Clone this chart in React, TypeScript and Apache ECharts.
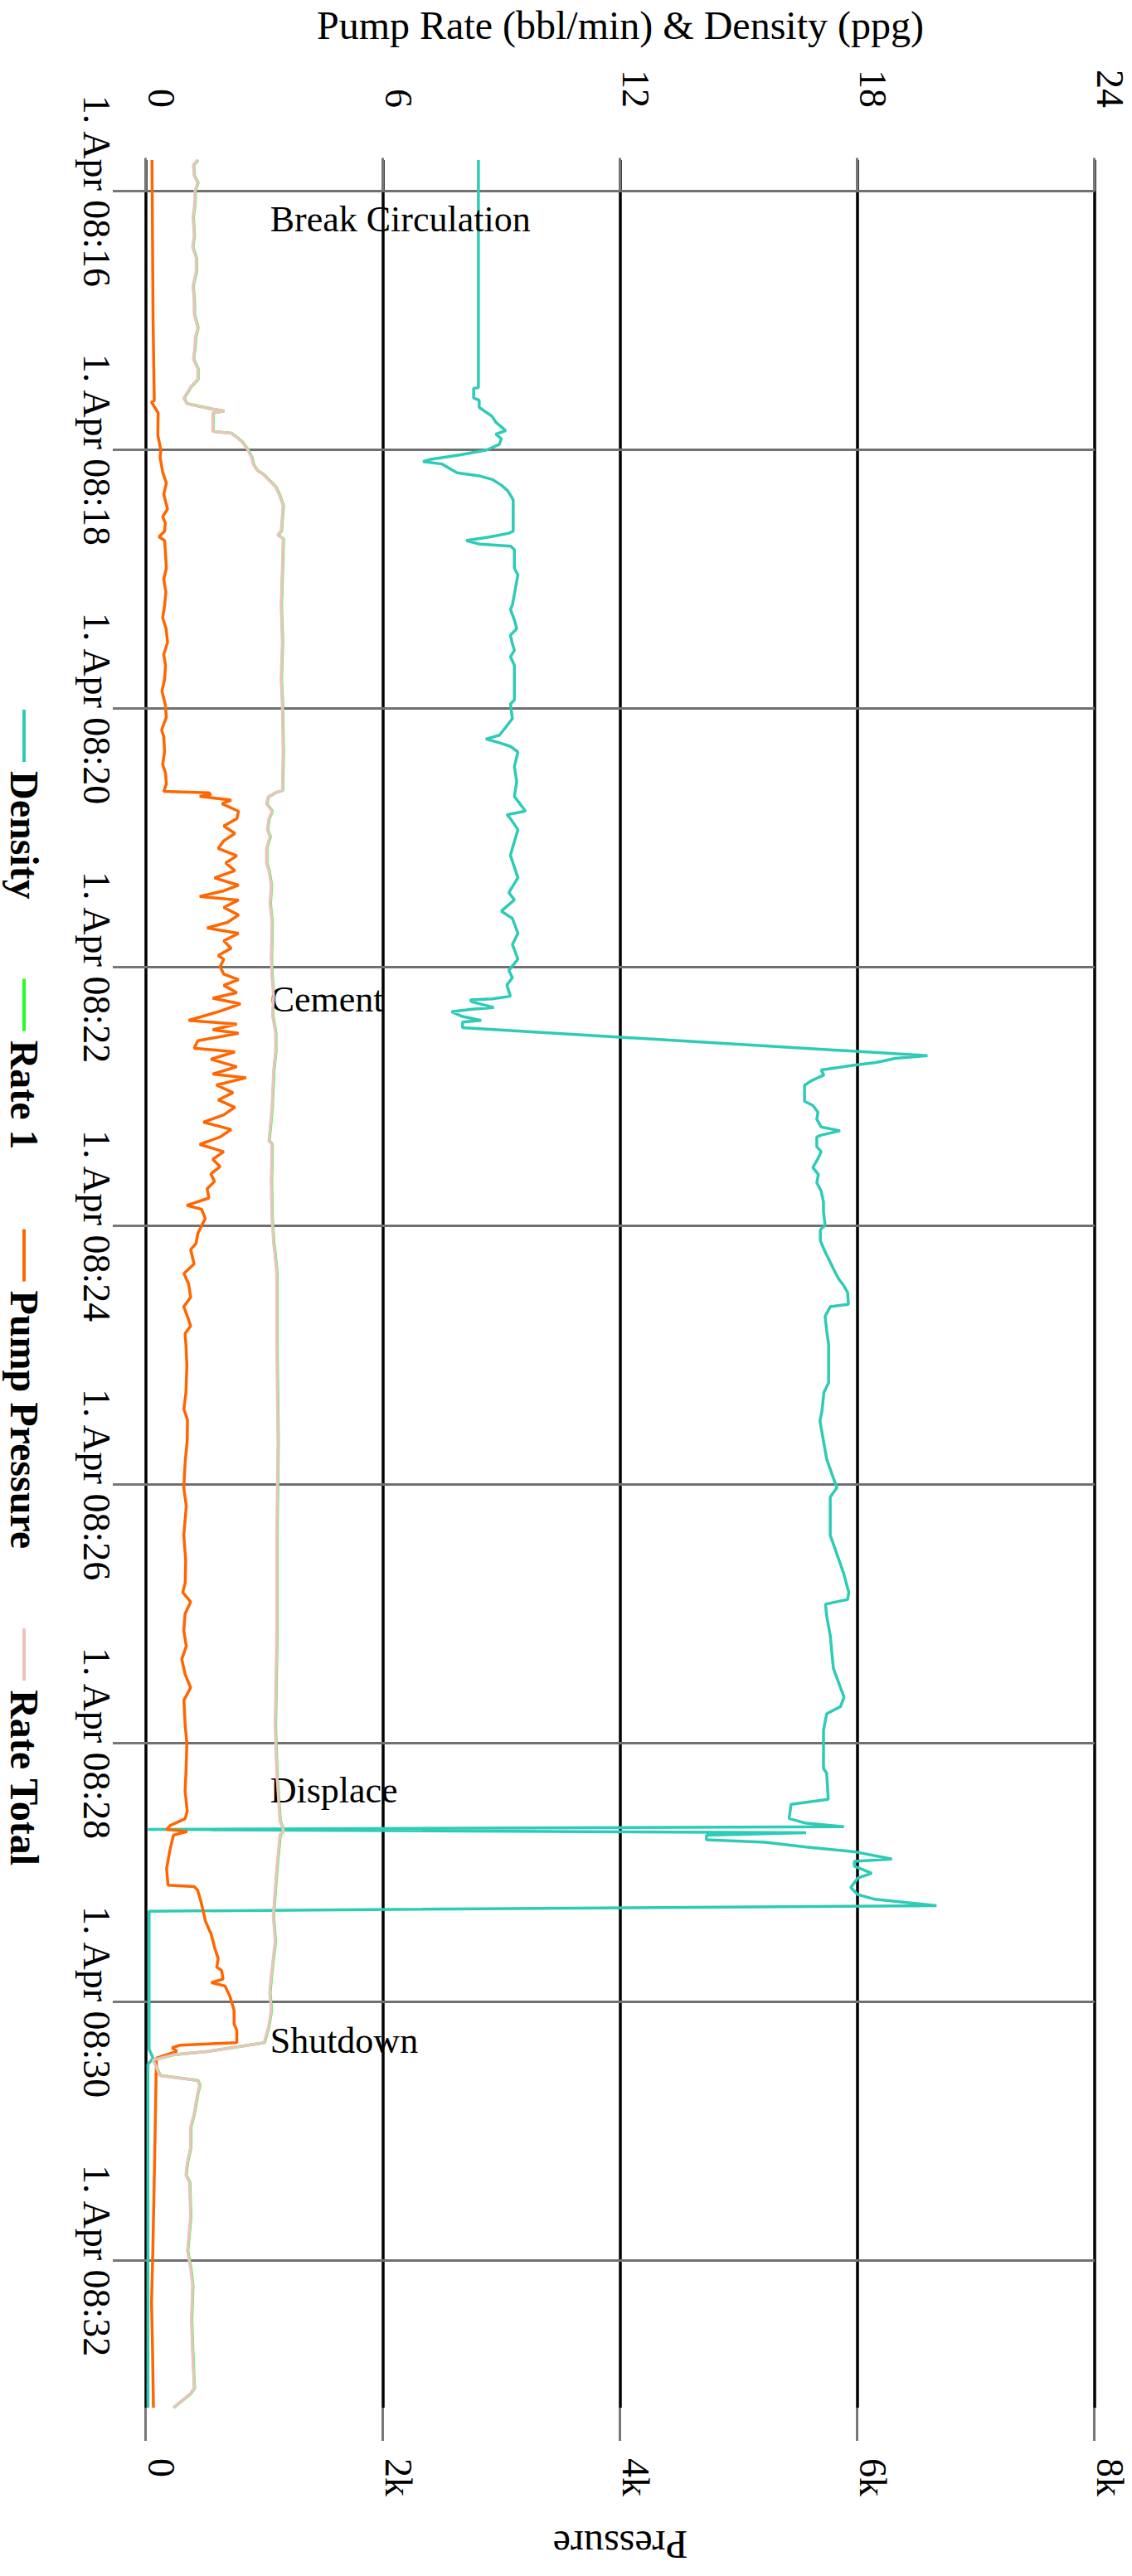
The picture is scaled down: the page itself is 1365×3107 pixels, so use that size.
import React, { useEffect, useRef } from "react";
import * as echarts from "echarts";

// The chart is drawn as a normal (horizontal-time) chart and the whole box is
// turned 90 degrees clockwise, as in the reference picture.
const CHART_W = 3107;
const CHART_H = 1365;

const FONT = "'Liberation Serif', 'Times New Roman', Times, serif";

// time values are seconds after 1. Apr 08:16:00
const BASE_CLOCK_SEC = 8 * 3600 + 16 * 60;
const TIME_TICKS = [0, 120, 240, 360, 480, 600, 720, 840, 960];

const seriesNames = ["Density", "Rate 1", "Pump Pressure", "Rate Total"];
const seriesColors = ["#2ecbb6", "#22ff22", "#ff6600", "#e8c4bd"];

const rateAxisName = "Pump Rate (bbl/min) & Density (ppg)";
const pressureAxisName = "Pressure";

const density: [number, number][] = [
  [-14.4, 8.41], [91.2, 8.41], [91.5, 8.29], [96, 8.29], [97, 8.43], [100.3, 8.43],
  [104.6, 8.76], [107.2, 8.85], [111.1, 9.1], [112.8, 8.85], [114.9, 8.99], [117.5, 8.94],
  [120.1, 8.62], [122.3, 7.96], [124.4, 7.21], [125.5, 7.01], [126.6, 7.49], [128.7, 7.68],
  [130.7, 7.87], [132.1, 8.43], [133.8, 8.76], [136.4, 8.99], [139, 9.15], [141, 9.22],
  [143.2, 9.29], [157.8, 9.29], [158.7, 9.18], [160.4, 8.71], [162.1, 8.1], [163.8, 8.45],
  [164.7, 9.23], [166.4, 9.32], [175, 9.32], [178, 9.41], [192, 9.27], [194, 9.22],
  [199, 9.32], [203, 9.38], [206, 9.22], [210, 9.27], [213, 9.32], [216, 9.22],
  [220, 9.32], [236, 9.32], [238, 9.22], [244.7, 9.27], [249.9, 9.05], [252.4, 8.94],
  [254.2, 8.6], [255.9, 8.94], [257.6, 9.22], [260.2, 9.41], [267, 9.32], [273.9, 9.38],
  [280.8, 9.32], [287.6, 9.6], [289.3, 9.13], [291.1, 9.22], [296.2, 9.41], [304.8, 9.27],
  [308.2, 9.22], [318.5, 9.41], [325.4, 9.18], [328.8, 9.32], [334, 8.99], [337.4, 9.27],
  [344.3, 9.41], [349.5, 9.27], [356.3, 9.41], [361.5, 9.18], [364.9, 9.27], [368.3, 9.13],
  [373.5, 9.22], [374.7, 8.76], [375.2, 8.2], [376.1, 8.25], [378.7, 8.8], [379.5, 8.25],
  [380.7, 7.73], [382.9, 8.01], [384.7, 8.48], [385.5, 8.01], [388.1, 8.01], [401, 19.77],
  [402.3, 18.96], [404.2, 18.47], [405.5, 17.91], [407.7, 17.08], [410, 17.15], [412.5, 16.85],
  [414.8, 16.66], [422.2, 16.66], [424.1, 16.87], [427.3, 17.0], [430.5, 16.97], [434.1, 17.08],
  [435.9, 17.56], [437.9, 17.08], [438.8, 16.97], [443.3, 16.97], [445.5, 17.08], [448.5, 17.01],
  [452.9, 16.87], [456.2, 17.01], [460, 16.97], [463.8, 17.08], [469, 17.14], [473.4, 17.14],
  [479.8, 17.18], [481.8, 17.06], [486.9, 17.06], [492, 17.18], [497.2, 17.32], [501, 17.42],
  [504.8, 17.53], [507.4, 17.64], [510.9, 17.75], [516.4, 17.77], [517.5, 17.31], [522, 17.18],
  [528.6, 17.22], [535.2, 17.27], [552.8, 17.27], [557.3, 17.15], [566.1, 17.1], [570.5, 17.05],
  [588.2, 17.22], [597, 17.39], [601.4, 17.48], [605.8, 17.31], [623.5, 17.31], [632.3, 17.48],
  [641.2, 17.65], [650, 17.78], [653.3, 17.75], [655.5, 17.19], [661, 17.22], [669.9, 17.31],
  [685.3, 17.39], [694.2, 17.57], [698.6, 17.66], [703, 17.57], [706.3, 17.22], [714, 17.14],
  [731.7, 17.14], [733.9, 17.22], [746, 17.26], [748.3, 16.32], [754.9, 16.27], [757.1, 16.7],
  [758.7, 17.66], [760, 0.05], [761.5, 16.7], [762.6, 14.18], [764.8, 14.18], [765.9, 15.66],
  [768.1, 16.7], [770.3, 17.92], [773.7, 18.87], [774.8, 17.92], [777, 17.92], [780.3, 18.36],
  [782.5, 18.01], [786.9, 17.83], [790.2, 18.01], [792.4, 18.44], [795.3, 20.0], [797.9, 0.08],
  [862, 0.08], [866, 0.18], [869, 0.05], [1028.2, 0.05],
];

const rate1: [number, number][] = [
  [-14.4, 1.32], [-12, 1.21], [-7, 1.23], [-4, 1.32], [0, 1.25], [3.3, 1.25], [8, 1.23],
  [12, 1.2], [20.5, 1.23], [26, 1.19], [31, 1.28], [37.6, 1.28], [44, 1.2], [51.4, 1.23],
  [57, 1.23], [63.4, 1.32], [68, 1.26], [72, 1.25], [78, 1.21], [82.3, 1.32], [87.4, 1.32],
  [90.9, 1.14], [96, 0.97], [98.6, 1.04], [101.2, 1.7], [102, 1.98], [102.9, 1.7],
  [111.5, 1.7], [112.3, 2.16], [114.9, 2.35], [116.6, 2.45], [120.1, 2.59], [123.5, 2.68],
  [126.9, 2.73], [129.5, 2.82], [131.2, 2.96], [135.5, 3.2], [137.2, 3.29], [140.7, 3.38],
  [145.8, 3.48], [157.8, 3.43], [159.5, 3.34], [161.3, 3.48], [175, 3.46], [192.2, 3.43],
  [209.3, 3.46], [226.5, 3.43], [238.2, 3.46], [260, 3.48], [278, 3.46],
  [279, 3.29], [281, 3.1], [284.2, 3.06], [287.7, 3.2], [291.1, 3.12], [296.2, 3.08],
  [299.5, 3.15], [304.9, 3.06], [311.7, 3.06], [315.2, 3.12], [322, 3.18], [330.6, 3.15],
  [339.2, 3.2], [356.4, 3.18], [365, 3.2], [373.5, 3.24], [382, 3.21], [390.7, 3.29],
  [399.3, 3.29], [407.8, 3.24], [425, 3.2], [440.5, 3.12], [442.2, 3.2], [459.4, 3.18],
  [476.6, 3.2], [488.2, 3.24], [491, 3.26], [502, 3.32], [535, 3.32], [580, 3.35],
  [623.5, 3.32], [668, 3.32], [712, 3.28], [734, 3.32], [756, 3.4], [760.4, 3.49],
  [762.6, 3.4], [778, 3.32], [800, 3.23], [811.9, 3.28], [819.8, 3.23], [827.8, 3.18],
  [835.8, 3.14], [843.8, 3.18], [851.7, 3.11], [858.9, 3.0], [862.9, 1.58], [864.5, 0.71],
  [866.9, 0.19], [874.1, 0.36], [876.4, 1.32], [878.8, 1.37], [882, 1.32], [891.6, 1.23],
  [898, 1.14], [907.6, 1.14], [913.9, 1.06], [920.3, 1.02], [923.5, 1.11], [939.5, 1.14],
  [955.4, 1.06], [963.4, 1.14], [971.4, 1.19], [987.3, 1.16], [1003.3, 1.19], [1019.2, 1.23],
  [1021.6, 1.14], [1028.2, 0.7],
];

const pumpPressure: [number, number][] = [
  [-14.4, 51], [20, 55], [60, 60], [97.2, 70], [97.8, 46], [100, 70], [102.9, 103],
  [113.2, 100], [119, 121], [120.1, 126], [123.5, 119], [130.4, 141], [135.5, 172], [140.7, 150],
  [147.5, 182], [151, 141], [154, 163], [157.8, 157], [160.4, 110], [162.1, 157], [168, 165],
  [175, 172], [180, 150], [186, 168], [192.2, 157], [198, 141], [203, 170], [209.3, 182],
  [215, 150], [220, 165], [226.5, 157], [232, 135], [238.2, 163], [244, 172], [250, 132],
  [253, 150], [260, 157], [266, 141], [270, 165], [275, 172], [278.5, 150],
  [279.1, 531], [280, 547], [280.8, 453], [282.5, 719], [284.2, 641], [287.7, 781],
  [291.1, 766], [294.5, 656], [298, 750], [301.4, 656], [304.9, 609], [308.3, 766],
  [311.7, 672], [315.2, 750], [318.6, 578], [322, 781], [324.6, 656], [327.2, 453],
  [328.9, 781], [332.3, 656], [335.8, 781], [339.2, 688], [341.8, 516], [344.3, 781],
  [347.8, 656], [351.2, 719], [354.6, 609], [356.4, 656], [359.8, 625], [363.2, 656],
  [365.8, 781], [368.4, 656], [371.8, 766], [374.4, 563], [377, 797], [380.4, 625],
  [384.7, 360], [386.4, 766], [389, 563], [390.7, 781], [394.1, 438], [397.6, 406],
  [399.3, 750], [402.7, 547], [406.2, 766], [409.6, 563], [411.3, 844], [414.7, 594],
  [418.2, 734], [421.6, 609], [425, 750], [428.5, 656], [431.9, 485], [435.3, 719],
  [438.8, 625], [442.2, 453], [445.6, 656], [449.1, 563], [452.5, 625], [455.9, 547],
  [459.4, 578], [462.8, 516], [467.1, 531], [470.5, 344], [472.3, 469], [476.6, 500],
  [480, 469], [483.4, 438], [488.2, 422], [491, 377], [497.7, 406], [502.1, 320],
  [507, 360], [513.1, 377], [517.5, 319], [522, 350], [526.4, 377], [530, 330],
  [535.2, 337], [545, 345], [557.3, 337], [565, 320], [570, 350], [579.4, 348],
  [590, 330], [601.4, 319], [610, 340], [623.5, 319], [635, 335], [645.6, 331],
  [650, 310], [654.4, 377], [660, 330], [667.7, 319], [675, 340], [681, 302],
  [688, 330], [694.2, 377], [700, 320], [711.8, 331], [720, 345], [733.9, 337],
  [742, 330], [751.6, 348], [755, 330], [758.2, 203], [760, 174], [760.9, 348],
  [762.6, 232], [769.3, 203], [778.1, 174], [785.8, 186], [786.5, 406], [788, 435],
  [793.5, 464], [800.2, 493], [802.3, 500], [808.7, 551], [815, 580], [819.8, 609],
  [823.8, 597], [825.4, 638], [829.4, 650], [831, 551], [832.6, 667], [837.4, 708],
  [843.8, 743], [850.1, 743], [853.3, 766], [858.9, 766], [860, 290], [861.3, 221],
  [862.9, 261], [866.1, 88], [875.7, 85], [907.6, 75], [955.4, 58], [979.3, 47],
  [1000, 55], [1028.2, 63],
];

const rateTotal: [number, number][] = [
  [-14.4, 1.31], [-12, 1.2], [-7, 1.22], [-4, 1.31], [0, 1.24], [3.3, 1.24], [8, 1.22],
  [12, 1.19], [20.5, 1.22], [26, 1.18], [31, 1.27], [37.6, 1.27], [44, 1.19], [51.4, 1.22],
  [57, 1.22], [63.4, 1.31], [68, 1.25], [72, 1.24], [78, 1.2], [82.3, 1.31], [87.4, 1.31],
  [90.9, 1.13], [96, 0.96], [98.6, 1.03], [101.2, 1.69], [102, 1.97], [102.9, 1.69],
  [111.5, 1.69], [112.3, 2.15], [114.9, 2.34], [116.6, 2.44], [120.1, 2.58], [123.5, 2.67],
  [126.9, 2.72], [129.5, 2.81], [131.2, 2.95], [135.5, 3.19], [137.2, 3.28], [140.7, 3.37],
  [145.8, 3.47], [157.8, 3.42], [159.5, 3.33], [161.3, 3.47], [175, 3.45], [192.2, 3.42],
  [209.3, 3.45], [226.5, 3.42], [238.2, 3.45], [260, 3.47], [278, 3.45],
  [279, 3.28], [281, 3.09], [284.2, 3.05], [287.7, 3.19], [291.1, 3.11], [296.2, 3.07],
  [299.5, 3.14], [304.9, 3.05], [311.7, 3.05], [315.2, 3.11], [322, 3.17], [330.6, 3.14],
  [339.2, 3.19], [356.4, 3.17], [365, 3.19], [373.5, 3.23], [382, 3.2], [390.7, 3.28],
  [399.3, 3.28], [407.8, 3.23], [425, 3.19], [440.5, 3.11], [442.2, 3.19], [459.4, 3.17],
  [476.6, 3.19], [488.2, 3.23], [491, 3.25], [502, 3.31], [535, 3.31], [580, 3.34],
  [623.5, 3.31], [668, 3.31], [712, 3.27], [734, 3.31], [756, 3.39], [760.4, 3.48],
  [762.6, 3.39], [778, 3.31], [800, 3.22], [811.9, 3.27], [819.8, 3.22], [827.8, 3.17],
  [835.8, 3.13], [843.8, 3.17], [851.7, 3.1], [858.9, 2.99], [862.9, 1.57], [864.5, 0.7],
  [866.9, 0.18], [874.1, 0.35], [876.4, 1.31], [878.8, 1.36], [882, 1.31], [891.6, 1.22],
  [898, 1.13], [907.6, 1.13], [913.9, 1.05], [920.3, 1.01], [923.5, 1.1], [939.5, 1.13],
  [955.4, 1.05], [963.4, 1.13], [971.4, 1.18], [987.3, 1.15], [1003.3, 1.18], [1019.2, 1.22],
  [1021.6, 1.13], [1028.2, 0.69],
];

// stage annotations: time (s after 08:16:00) and the rate level where the text starts
const eventNames = ["Break Circulation", "Cement", "Displace", "Shutdown"];
const eventTimes = [13, 375, 742, 858];
const EVENT_LABEL_LEVEL = 3.14;

function fmtTime(v: number): string {
  const total = BASE_CLOCK_SEC + Math.round(v);
  const hh = Math.floor(total / 3600);
  const mm = Math.floor((total % 3600) / 60);
  return `1. Apr ${String(hh).padStart(2, "0")}:${String(mm).padStart(2, "0")}`;
}

function fmtK(v: number): string {
  return v === 0 ? "0" : `${v / 1000}k`;
}

function buildOption() {
  const lineSeries = (name: string, idx: number, data: [number, number][], yAxisIndex: number, width: number, z: number) => ({
    name,
    type: "line",
    yAxisIndex,
    data,
    showSymbol: false,
    symbol: "none",
    z,
    color: seriesColors[idx],
    lineStyle: { color: seriesColors[idx], width },
    emphasis: { disabled: true },
  });

  const densitySeries: any = lineSeries(seriesNames[0], 0, density, 0, 3.5, 2);
  densitySeries.markPoint = {
    symbol: "circle",
    symbolSize: 1,
    silent: true,
    itemStyle: { color: "rgba(0,0,0,0)" },
    label: {
      show: true,
      position: "inside",
      formatter: "{b}",
      rotate: 90,
      align: "left",
      verticalAlign: "middle",
      fontSize: 44,
      color: "#000",
      fontFamily: FONT,
    },
    data: eventNames.map((n, i) => ({ name: n, coord: [eventTimes[i], EVENT_LABEL_LEVEL] })),
  };

  const valueLabel = {
    fontSize: 46,
    color: "#000",
    verticalAlign: "bottom",
    lineHeight: 36,
    padding: [0, 0, 0, 0],
    fontFamily: FONT,
  };

  return {
    animation: false,
    backgroundColor: "#ffffff",
    textStyle: { fontFamily: FONT },
    legend: {
      data: seriesNames,
      orient: "horizontal",
      left: "center",
      top: 1307,
      icon: "rect",
      itemWidth: 63,
      itemHeight: 4,
      itemGap: 96,
      padding: 5,
      textStyle: {
        fontFamily: FONT,
        fontSize: 48,
        fontWeight: "bold",
        color: "#000",
        padding: [0, 0, 0, 6],
      },
    },
    grid: {
      left: 193,
      right: 203,
      top: 45,
      bottom: 176,
      containLabel: false,
      outerBoundsMode: "none",
    },
    xAxis: {
      type: "value",
      min: "dataMin",
      max: "dataMax",
      axisLine: { show: false },
      axisTick: {
        show: true,
        length: 40,
        customValues: TIME_TICKS,
        lineStyle: { color: "#777777", width: 3 },
      },
      axisLabel: {
        customValues: TIME_TICKS,
        formatter: fmtTime,
        fontSize: 46,
        color: "#000",
        margin: 37,
        fontFamily: FONT,
      },
      splitLine: { show: true, lineStyle: { color: "#707070", width: 3 } },
    },
    yAxis: [
      {
        type: "value",
        position: "left",
        min: 0,
        max: 24,
        interval: 6,
        name: rateAxisName,
        nameLocation: "middle",
        nameRotate: 90,
        nameGap: 139,
        nameTextStyle: { fontSize: 48, color: "#000", fontFamily: FONT },
        axisLine: { show: false },
        axisTick: { show: true, length: 40, lineStyle: { color: "#777777", width: 3 } },
        axisLabel: { ...valueLabel, margin: 63 },
        splitLine: { show: true, lineStyle: { color: "#000", width: 3.5 } },
      },
      {
        type: "value",
        position: "right",
        min: 0,
        max: 8000,
        interval: 2000,
        name: pressureAxisName,
        nameLocation: "middle",
        nameRotate: -90,
        nameGap: 141,
        nameTextStyle: { fontSize: 48, color: "#000", fontFamily: FONT },
        axisLine: { show: false },
        axisTick: { show: true, length: 40, lineStyle: { color: "#777777", width: 3 } },
        axisLabel: { ...valueLabel, formatter: fmtK, margin: 61 },
        splitLine: { show: false },
      },
    ],
    series: [
      densitySeries,
      lineSeries(seriesNames[1], 1, rate1, 0, 3.5, 3),
      lineSeries(seriesNames[2], 2, pumpPressure, 1, 3.5, 4),
      lineSeries(seriesNames[3], 3, rateTotal, 0, 3.5, 5),
    ],
  };
}

export default function App() {
  const ref = useRef<HTMLDivElement | null>(null);

  useEffect(() => {
    if (!ref.current) return;
    const chart = echarts.init(ref.current, null, { renderer: "svg", width: CHART_W, height: CHART_H });
    chart.setOption(buildOption() as any);
    return () => {
      chart.dispose();
    };
  }, []);

  return (
    <div
      style={{
        position: "absolute",
        left: 0,
        top: 0,
        width: CHART_H,
        height: CHART_W,
        overflow: "hidden",
        background: "#fff",
      }}
    >
      <div
        ref={ref}
        style={{
          position: "absolute",
          left: 0,
          top: 0,
          width: CHART_W,
          height: CHART_H,
          transformOrigin: "0 0",
          transform: `translate(${CHART_H}px, 0px) rotate(90deg)`,
        }}
      />
    </div>
  );
}
